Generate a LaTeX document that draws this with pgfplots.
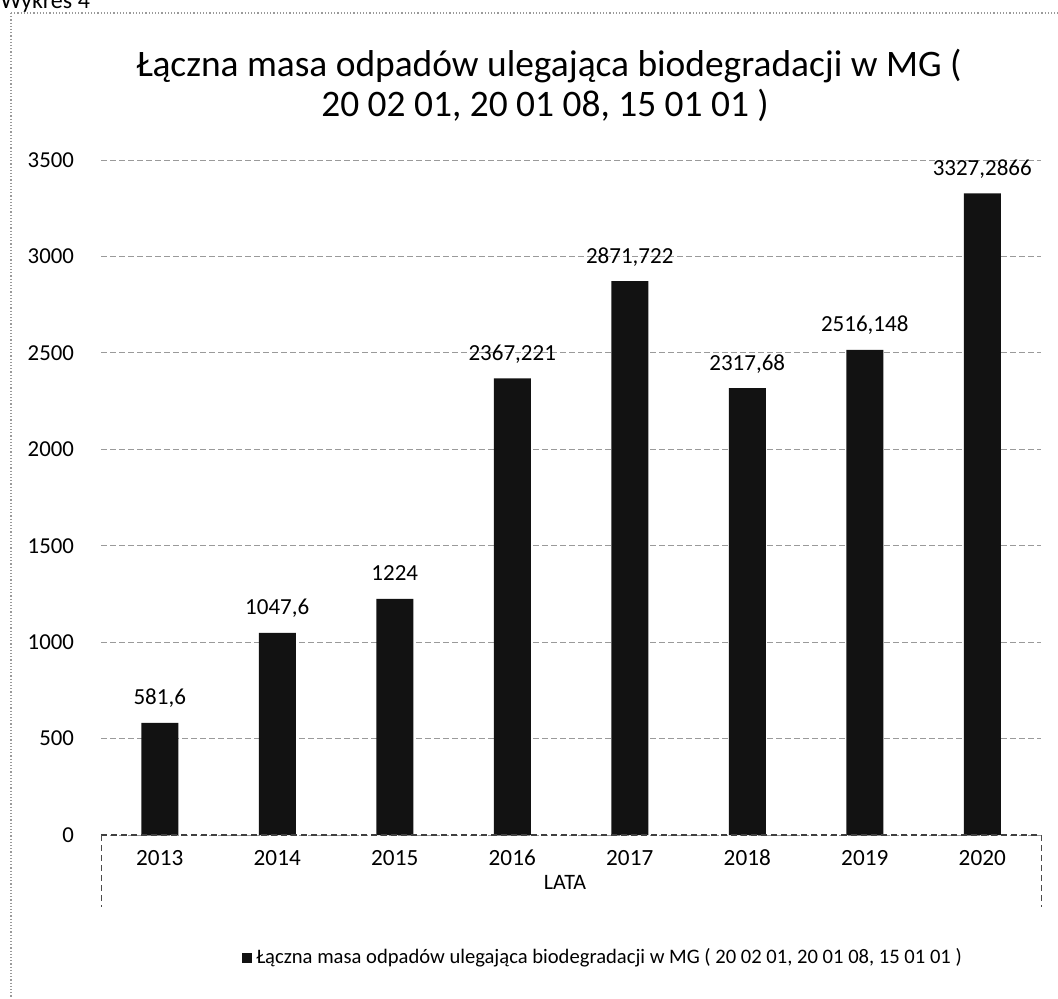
\documentclass[border=0pt]{standalone}
\usepackage{pgfplots}
\pgfplotsset{compat=1.18}
\usepackage{pgfplotstable}
\usepackage{fontspec}
\setmainfont{Carlito}
\definecolor{barc}{HTML}{121212}
\definecolor{gridc}{HTML}{9A9A9A}
\pgfplotstableread{
x y lab
0 581.6 581,6
1 1047.6 1047,6
2 1224 1224
3 2367.221 2367,221
4 2871.722 2871,722
5 2317.68 2317,68
6 2516.148 2516,148
7 3327.2866 3327,2866
}\datatable
\begin{document}
\begin{tikzpicture}
\useasboundingbox (-50.5pt,-81.5pt) rectangle (478.5pt,417.5pt);
\node[anchor=base west,font=\fontsize{12}{14}\selectfont,inner sep=0pt] at (-50.5pt,413pt) {Wykres 4};
\draw[gridc,densely dotted,line width=0.6pt] (-45pt,411pt) -- (478.5pt,411pt);
\draw[gridc,densely dotted,line width=0.6pt] (-45pt,411pt) -- (-45pt,-81.5pt);
\begin{axis}[
  at={(0,0)}, anchor=south west,
  width=470pt, height=337.5pt, scale only axis,
  ybar, bar width=18.5pt,
  xmin=-0.5, xmax=7.5, ymin=0, ymax=3500,
  ytick={0,500,...,3500},
  xtick={0,...,7},
  xticklabels={2013,2014,2015,2016,2017,2018,2019,2020},
  /pgf/number format/assume math mode=true,
  /pgf/number format/1000 sep={},
  major tick length=0pt,
  axis line style={draw=none},
  ymajorgrids,
  grid style={gridc,dash pattern=on 3pt off 1.5pt,line width=0.5pt},
  yticklabel style={font=\fontsize{11.4}{14}\selectfont,anchor=east,xshift=-10pt},
  xticklabel style={font=\fontsize{11.6}{14}\selectfont,yshift=-4pt},
  xlabel={LATA},
  xlabel style={font=\fontsize{11}{13}\selectfont,at={(axis description cs:0.4936,0)},anchor=center,yshift=-23.5pt},
  nodes near coords,
  point meta=explicit symbolic,
  every node near coord/.append style={font=\fontsize{11.5}{13}\selectfont,anchor=base,yshift=9pt,black},
  legend style={at={(axis description cs:0.535,-0.182)},anchor=center,draw=none,fill=none,font=\fontsize{10.3}{12}\selectfont,inner sep=0pt},
  legend image code/.code={\fill[barc] (0pt,-2.6pt) rectangle (5.2pt,2.6pt);},
  clip=false,
]
\addplot[fill=barc,draw=none] table[x=x,y=y,meta=lab] {\datatable};
\addlegendentry{Łączna masa odpadów ulegająca biodegradacji w MG ( 20 02 01, 20 01 08, 15 01 01 )}
\draw[black!75,densely dashed,line width=0.6pt] (axis description cs:0,0) -- (axis description cs:1,0);
\draw[black!70,densely dashed,line width=0.5pt] (axis description cs:0,0) -- ([yshift=-36pt]axis description cs:0,0);
\draw[black!70,densely dashed,line width=0.5pt] (axis description cs:1,0) -- ([yshift=-36pt]axis description cs:1,0);
\end{axis}
\node[anchor=base,font=\fontsize{18.7}{22}\selectfont,inner sep=0pt] at (224pt,379pt) {Łączna masa odpadów ulegająca biodegradacji w MG (};
\node[anchor=base,font=\fontsize{18.7}{22}\selectfont,inner sep=0pt] at (222pt,359pt) {20 02 01, 20 01 08, 15 01 01 )};
\end{tikzpicture}
\end{document}
